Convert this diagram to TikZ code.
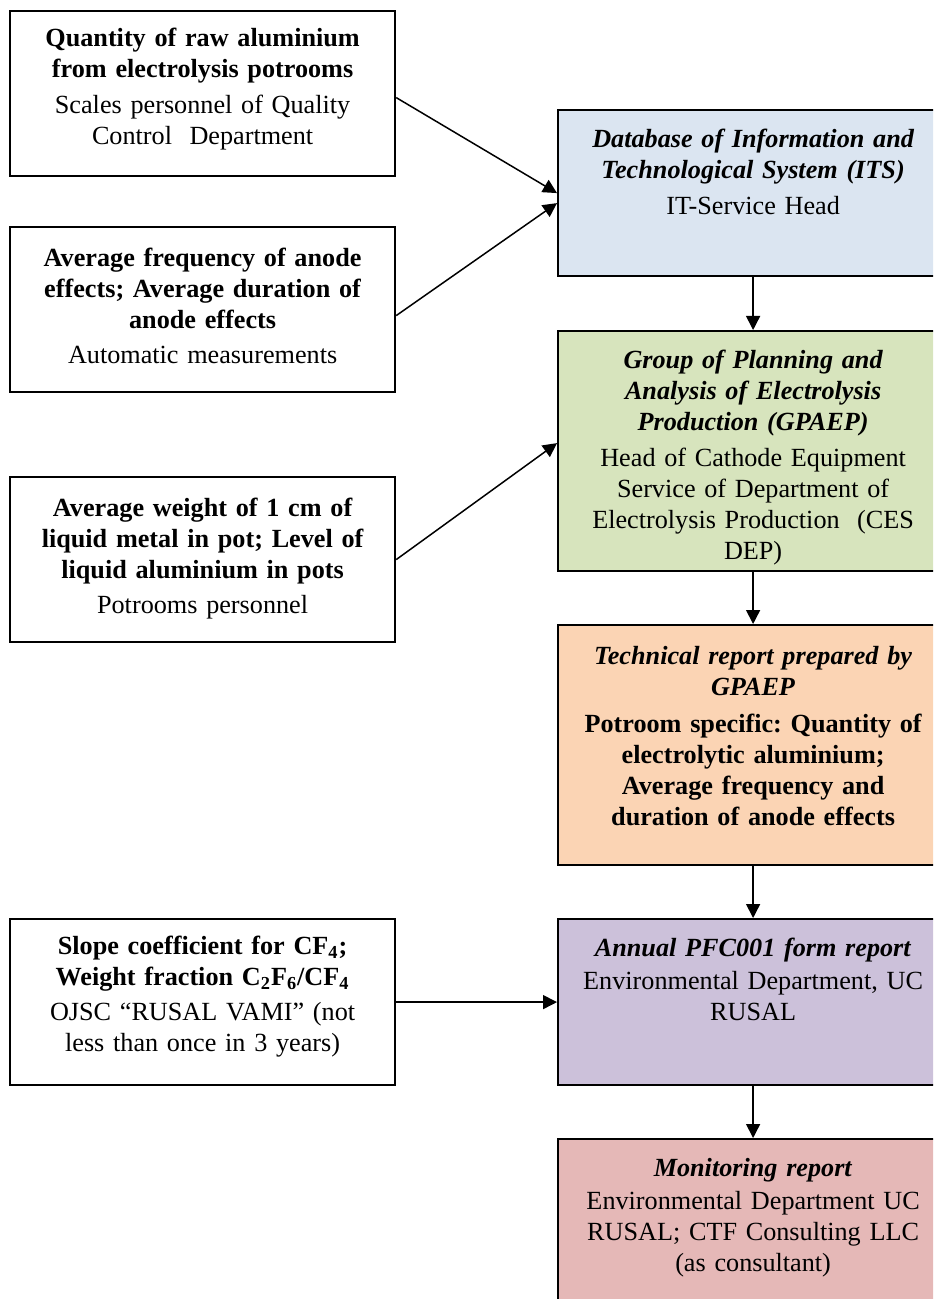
\documentclass[tikz,border=0pt]{standalone}
\usepackage{fontspec}
\setmainfont{Liberation Serif}
\usetikzlibrary{arrows.meta, positioning}
\definecolor{itsblue}{HTML}{DBE5F1}
\definecolor{gpaepgreen}{HTML}{D7E4BD}
\definecolor{techorange}{HTML}{FBD4B4}
\definecolor{pfcviolet}{HTML}{CCC1DA}
\definecolor{monpink}{HTML}{E5B8B7}
\frenchspacing

\begin{document}
\begin{tikzpicture}[x=0.5pt, y=-0.5pt,
  box/.style={draw, line width=1.1pt, anchor=north west, inner sep=0pt, minimum width=192.5pt},
  rbox/.style={box, minimum width=195pt},
  txt/.style={anchor=north, text width=188pt, align=center, inner sep=0pt, font=\fontsize{13.1}{15.5}\selectfont},
  link/.style={-{Triangle[length=7pt, width=7pt]}, line width=0.75pt}]
\clip (0,0) rectangle (933,1299);

\node[box, minimum height=82.5pt] (raw) at (9,10) {};
\node[box, minimum height=82.5pt] (anode) at (9,226) {};
\node[box, minimum height=82.5pt] (metal) at (9,476) {};
\node[box, minimum height=83pt] (slope) at (9,918) {};

\node[rbox, fill=itsblue, minimum height=83pt] (its) at (557,109) {};
\node[rbox, fill=gpaepgreen, minimum height=120pt] (gpaep) at (557,330) {};
\node[rbox, fill=techorange, minimum height=120pt] (tech) at (557,624) {};
\node[rbox, fill=pfcviolet, minimum height=83pt] (pfc) at (557,918) {};
\node[rbox, fill=monpink, minimum height=90pt] (mon) at (557,1138) {};

\node[txt, below=9pt of raw.north] (rawt) {\textbf{Quantity of raw aluminium\\from electrolysis potrooms}\\[2.5pt]
  Scales personnel of Quality\\Control\ \ Department};
\node[txt, below=11pt of anode.north] (anodet) {\textbf{Average frequency of anode\\effects; Average duration of\\anode effects}\\[2pt]
  Automatic measurements};
\node[txt, below=11pt of metal.north] (metalt) {\textbf{Average weight of 1 cm of\\liquid metal in pot; Level of\\liquid aluminium in pots}\\[2pt]
  Potrooms personnel};
\node[txt, below=9pt of slope.north] (slopet) {\textbf{Slope coefficient for CF\textsubscript{4};\\Weight fraction C\textsubscript{2}F\textsubscript{6}/CF\textsubscript{4}}\\[2pt]
  OJSC “RUSAL VAMI” (not\\less than once in 3 years)};

\node[txt, below=10pt of its.north] (itst) {\textbf{\textit{Database of Information and\\Technological System (ITS)}}\\[2.5pt]
  IT-Service Head};
\node[txt, below=10pt of gpaep.north] (gpaept) {\textbf{\textit{Group of Planning and\\Analysis of Electrolysis\\Production (GPAEP)}}\\[2.5pt]
  Head of Cathode Equipment\\Service of Department of\\Electrolysis Production\ \ (CES\\DEP)};
\node[txt, below=11pt of tech.north] (techt) {\textbf{\textit{Technical report prepared by\\GPAEP}}\\[3pt]
  \textbf{Potroom specific: Quantity of\\electrolytic aluminium;\\Average frequency and\\duration of anode effects}};
\node[txt, below=10pt of pfc.north] (pfct) {\textbf{\textit{Annual PFC001 form report}}\\[1pt]
  Environmental Department, UC\\RUSAL};
\node[txt, below=10pt of mon.north] (mont) {\textbf{\textit{Monitoring report}}\\[1pt]
  Environmental Department UC\\RUSAL; CTF Consulting LLC\\(as consultant)};

\draw[link] ([yshift=-2pt]raw.east) -- (its.west);
\draw[link] ([yshift=-3pt]anode.east) -- ([yshift=-5pt]its.west);
\draw[link] (metal.east) -- ([yshift=4pt]gpaep.west);
\draw[link] (slope.east) -- (pfc.west);
\draw[link] (its.south) -- (gpaep.north);
\draw[link] (gpaep.south) -- (tech.north);
\draw[link] (tech.south) -- (pfc.north);
\draw[link] (pfc.south) -- (mon.north);

\end{tikzpicture}
\end{document}
